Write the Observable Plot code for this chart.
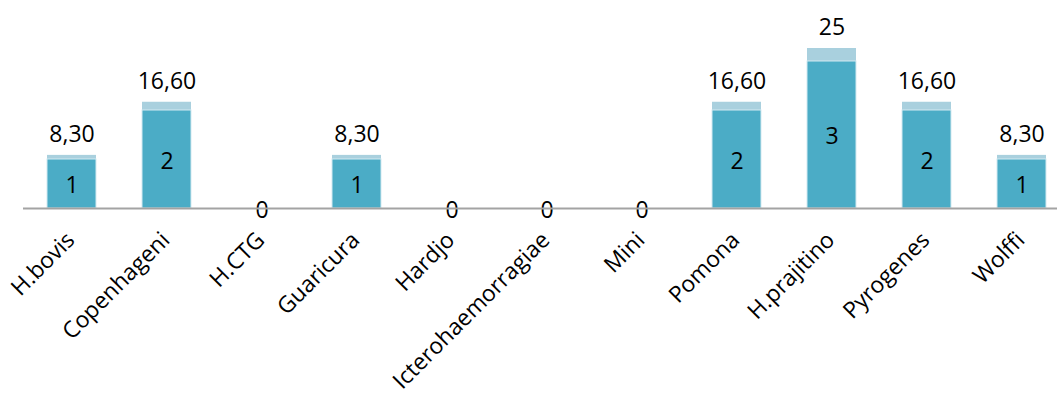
<!DOCTYPE html>
<html>
<head>
<meta charset="utf-8">
<script src="https://cdn.jsdelivr.net/npm/d3@7"></script>
<script src="https://cdn.jsdelivr.net/npm/@observablehq/plot@0.6"></script>
<style>
  html, body { margin: 0; padding: 0; background: #fff; overflow: hidden; }
  #chart { position: relative; width: 1057px; height: 394px; overflow: hidden; }
  #chart svg { position: absolute; left: 0; top: 0; font-variant-ligatures: none; }
</style>
</head>
<body>
<div id="chart"></div>
<script>
// Serovars tested
const categories = ["H.bovis", "Copenhageni", "H.CTG", "Guaricura", "Hardjo",
  "Icterohaemorragiae", "Mini", "Pomona", "H.prajitino", "Pyrogenes", "Wolffi"];
// Number of positive samples per serovar
const counts = [1, 2, 0, 1, 0, 0, 0, 2, 3, 2, 1];
// Share of positives (%) per serovar
const percents = [8.3, 16.6, 0, 8.3, 0, 0, 0, 16.6, 25, 16.6, 8.3];

const rows = categories.map((name, i) => ({name, count: counts[i], pct: percents[i]}));

const W = 1057, H = 394;
const font = "'Open Sans', sans-serif";
const xScale = {
  domain: categories, axis: null,
  paddingInner: 0.48, paddingOuter: 0.245
};
const frame = {width: W, height: H, marginLeft: 23, marginRight: -13, marginTop: 0, marginBottom: 186};

const fmtPct = v => Number.isInteger(v) ? String(v) : v.toFixed(2).replace(".", ",");

// Percentage series (secondary scale), drawn behind
const pctPlot = Plot.plot({
  ...frame,
  style: {fontFamily: font, fontSize: "23px", background: "white"},
  x: xScale,
  y: {axis: null, domain: [0, 32.5]},
  marks: [
    Plot.barY(rows, {x: "name", y: "pct", fill: "#a9d0de"}),
    Plot.text(rows.filter(d => d.pct > 0), {
      x: "name", y: "pct", text: d => fmtPct(d.pct),
      lineAnchor: "middle", dy: -21, fill: "#000", fontSize: 23
    })
  ]
});

// Count series (primary scale), drawn on top
const countPlot = Plot.plot({
  ...frame,
  style: {fontFamily: font, fontSize: "23px", background: "transparent"},
  x: xScale,
  y: {axis: null, domain: [0, 208 / 49]},
  marks: [
    Plot.barY(rows, {x: "name", y: "count", fill: "#4bacc6", stroke: "#d4eaf1", strokeWidth: 1}),
    Plot.text(rows, Plot.stackY({
      x: "name", y: "count", text: d => String(d.count),
      lineAnchor: "middle", dy: 2, fill: "#000", fontSize: 23
    })),
    Plot.ruleY([0], {stroke: "#a3a3a3", strokeWidth: 2}),
    Plot.text(categories, {
      x: d => d, text: d => d, frameAnchor: "bottom",
      rotate: -45, textAnchor: "end", lineAnchor: "bottom",
      dx: 4, dy: 33, fill: "#000", fontSize: 22.8
    })
  ]
});

const root = document.getElementById("chart");
root.append(pctPlot, countPlot);
</script>
</body>
</html>
